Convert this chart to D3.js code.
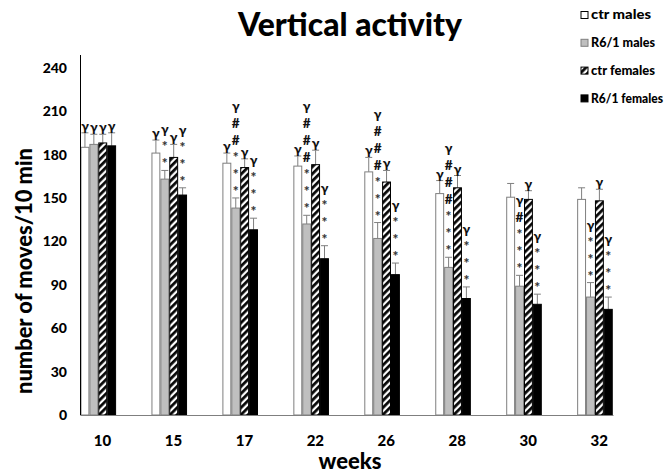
<!DOCTYPE html>
<html>
<head>
<meta charset="utf-8">
<script src="https://cdn.jsdelivr.net/npm/d3@7"></script>
<style>
  body { margin: 0; background: #fff; }
  text { font-family: Lato, "Open Sans", sans-serif; font-weight: 900; }
</style>
</head>
<body>
<svg id="chart" width="668" height="475"></svg>
<script>
// weeks on the x axis
const weeks = ['10', '15', '17', '22', '26', '28', '30', '32']
const seriesNames = ['ctr males', 'R6/1 males', 'ctr females', 'R6/1 females']

// means
const ctrMales = [185, 181, 174, 172, 168, 153, 150.5, 149]
const r6Males = [187, 163, 143, 132, 122, 102, 89, 81.5]
const ctrFemales = [188, 178, 171, 173, 161, 157, 149, 148]
const r6Females = [186, 152, 128, 108, 97, 80.5, 76.5, 73]

// upper error bar lengths
const ctrMalesErr = [10, 9, 7, 7, 10, 9, 9.5, 8]
const r6MalesErr = [7, 6, 7, 6, 11, 7, 7.5, 10]
const ctrFemalesErr = [6, 9, 6, 10, 8, 8.5, 6, 8]
const r6FemalesErr = [9, 5, 8, 9, 8, 8, 7, 8.5]

// significance marks, listed bottom to top
const ctrMalesMarks = ['γ', 'γ', 'γ', 'γ', 'γ', 'γ', '', '']
const r6MalesMarks = ['γ', '**γ', '***##γ', '***###γ', '***###γ', '***###γ', '***#γ', '***γ']
const ctrFemalesMarks = ['γ', 'γ', 'γ', 'γ', 'γ', 'γ', 'γ', 'γ']
const r6FemalesMarks = ['γ', '***γ', '***γ', '***γ', '***γ', '***γ', '***γ', '***γ']

const yTicks = [0, 30, 60, 90, 120, 150, 180, 210, 240]

const svg = d3.select('#chart')

const defs = svg.append('defs')
const hatch = defs.append('pattern')
  .attr('id', 'hatch')
  .attr('patternUnits', 'userSpaceOnUse')
  .attr('width', 5)
  .attr('height', 5)
  .attr('patternTransform', 'rotate(45)')
hatch.append('rect').attr('width', 5).attr('height', 5).attr('fill', '#fff')
hatch.append('line')
  .attr('x1', 1.4).attr('y1', 0).attr('x2', 1.4).attr('y2', 5)
  .attr('stroke', '#000').attr('stroke-width', 2.7)

const styles = [
  { fill: '#fff', stroke: '#7f7f7f' },
  { fill: '#bfbfbf', stroke: '#7f7f7f' },
  { fill: 'url(#hatch)', stroke: '#000' },
  { fill: '#000', stroke: '#000' }
]

const series = [
  { name: seriesNames[0], values: ctrMales, err: ctrMalesErr, marks: ctrMalesMarks },
  { name: seriesNames[1], values: r6Males, err: r6MalesErr, marks: r6MalesMarks },
  { name: seriesNames[2], values: ctrFemales, err: ctrFemalesErr, marks: ctrFemalesMarks },
  { name: seriesNames[3], values: r6Females, err: r6FemalesErr, marks: r6FemalesMarks }
]

const x0 = 80.5
const step = 70.95
const xScale = d3.scaleBand().domain(weeks).range([x0, x0 + step * weeks.length]).padding(0)
const xInner = d3.scaleBand().domain(seriesNames).range([0, 35.6]).padding(0)
const yScale = d3.scaleLinear().domain([0, 240]).range([415, 67.7])

// y tick labels (no tick marks)
svg.append('g').selectAll('text').data(yTicks).join('text')
  .attr('x', 67)
  .attr('y', d => yScale(d))
  .attr('dy', '0.36em')
  .attr('text-anchor', 'end')
  .attr('font-size', 14)
  .text(d => d)

// bars
const groups = svg.append('g').selectAll('g').data(weeks).join('g')
  .attr('transform', d => `translate(${xScale(d)},0)`)

groups.each(function (week, wi) {
  const g = d3.select(this)
  series.forEach((s, si) => {
    const bx = xInner(s.name)
    const bw = xInner.bandwidth()
    const v = s.values[wi]
    const top = yScale(v + s.err[wi])
    const cx = bx + bw / 2
    // error bar
    g.append('line')
      .attr('x1', cx).attr('x2', cx)
      .attr('y1', yScale(v)).attr('y2', top)
      .attr('stroke', '#7f7f7f').attr('stroke-width', 1)
    g.append('line')
      .attr('x1', cx - 3.5).attr('x2', cx + 3.5)
      .attr('y1', top).attr('y2', top)
      .attr('stroke', '#7f7f7f').attr('stroke-width', 1)
    g.append('rect')
      .attr('x', bx + 0.5)
      .attr('y', yScale(v))
      .attr('width', bw - 1)
      .attr('height', yScale(0) - yScale(v))
      .attr('fill', styles[si].fill)
      .attr('stroke', styles[si].stroke)
      .attr('stroke-width', 1)
    // significance marks stacked upward
    const marks = Array.from(s.marks[wi])
    g.selectAll(null).data(marks).join('text')
      .attr('x', cx)
      .attr('y', (d, i) => top - 2 - i * 17)
      .attr('text-anchor', 'middle')
      .attr('font-family', '"Open Sans", sans-serif')
      .attr('font-weight', 'bold')
      .attr('font-size', d => d === '*' ? 14 : 13.5)
      .attr('fill', d => d === '*' ? '#333' : '#111')
      .text(d => d)
  })
})

// axes lines
svg.append('line')
  .attr('x1', 80.5).attr('x2', 80.5).attr('y1', 55).attr('y2', 415)
  .attr('stroke', '#000').attr('stroke-width', 1)
svg.append('line')
  .attr('x1', 80.5).attr('x2', 613.5).attr('y1', 415.5).attr('y2', 415.5)
  .attr('stroke', '#7f7f7f').attr('stroke-width', 1)

// x tick labels
svg.append('g').selectAll('text').data(weeks).join('text')
  .attr('x', d => xScale(d) + 22)
  .attr('y', 446)
  .attr('text-anchor', 'middle')
  .attr('font-size', 15)
  .text(d => d)

// titles
svg.append('text')
  .attr('x', 350).attr('y', 36)
  .attr('text-anchor', 'middle')
  .attr('font-size', 32)
  .attr('textLength', 224)
  .attr('lengthAdjust', 'spacingAndGlyphs')
  .text('Vertical activity')

svg.append('text')
  .attr('x', 350).attr('y', 469)
  .attr('text-anchor', 'middle')
  .attr('font-size', 22)
  .text('weeks')

svg.append('text')
  .attr('transform', 'translate(32,271) rotate(-90)')
  .attr('text-anchor', 'middle')
  .attr('font-size', 23)
  .attr('textLength', 246)
  .attr('lengthAdjust', 'spacingAndGlyphs')
  .text('number of moves/10 min')

// legend
const legendWidths = [60, 64, 64, 72]
const legend = svg.append('g').selectAll('g').data(series).join('g')
  .attr('transform', (d, i) => `translate(581,${15 + i * 27.8})`)
legend.append('rect')
  .attr('x', 0).attr('y', -3.5).attr('width', 7).attr('height', 7)
  .attr('fill', (d, i) => styles[i].fill)
  .attr('stroke', (d, i) => i === 1 ? '#7f7f7f' : '#000')
  .attr('stroke-width', 1)
legend.append('text')
  .attr('x', 10).attr('y', 0).attr('dy', '0.35em')
  .attr('font-size', 12.5)
  .attr('textLength', (d, i) => legendWidths[i])
  .attr('lengthAdjust', 'spacingAndGlyphs')
  .text(d => d.name)
</script>
</body>
</html>
